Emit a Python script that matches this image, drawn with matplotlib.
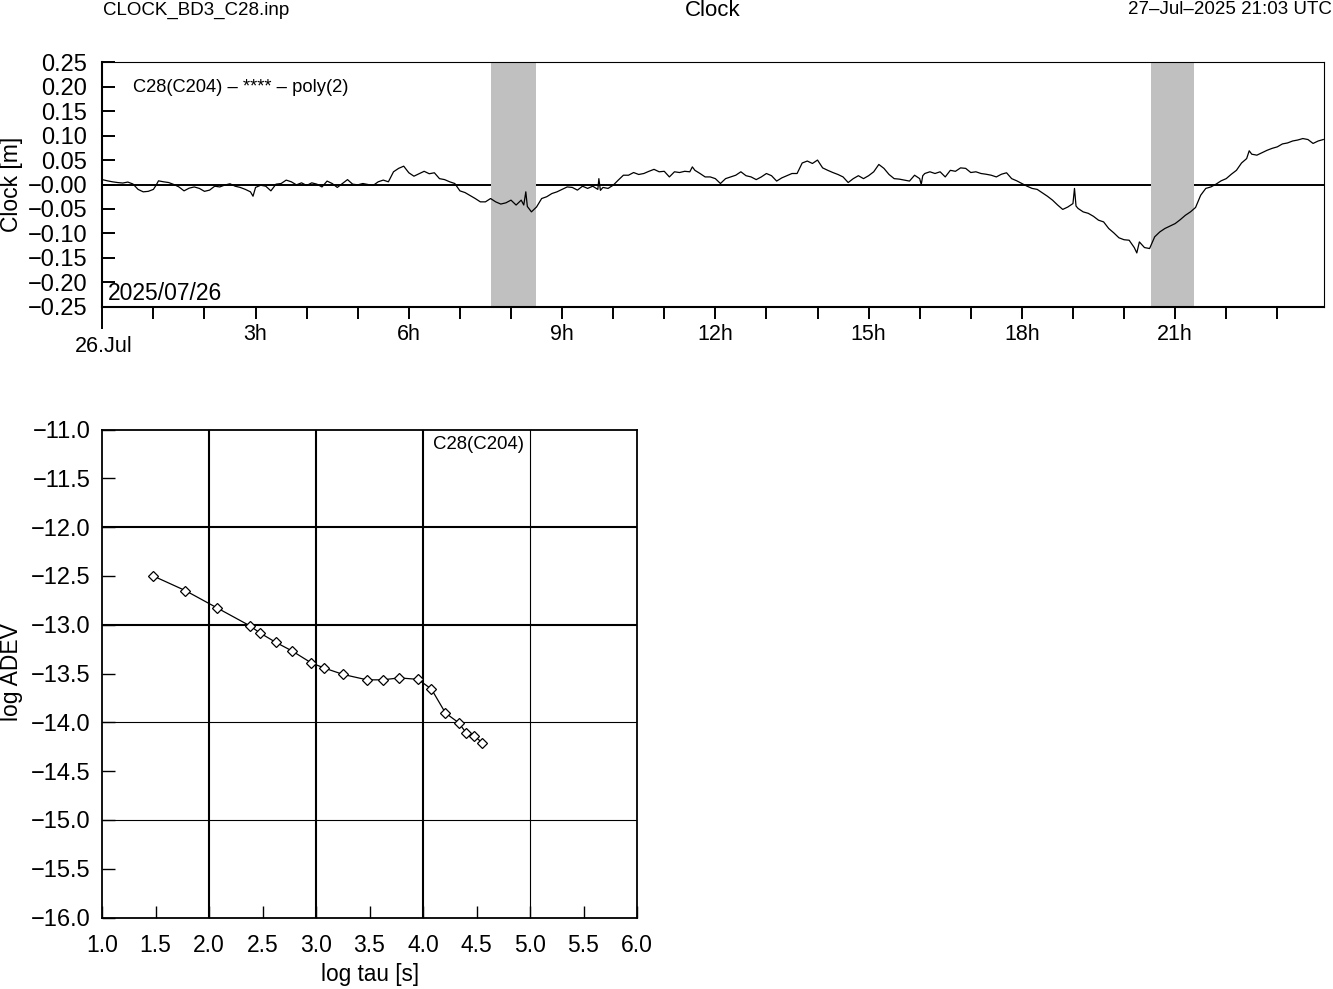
import matplotlib
matplotlib.use('Agg')
import matplotlib.pyplot as plt

plt.rcParams['font.family'] = ['Liberation Sans', 'DejaVu Sans']
plt.rcParams['axes.unicode_minus'] = True

# ---------------- data ----------------
clock_hours = [
    0.0, 0.1, 0.2, 0.3, 0.4, 0.5, 0.6, 0.7, 0.8, 0.9, 1.0, 1.05, 1.1, 1.2, 1.3, 1.4, 1.5, 1.6, 1.7, 1.8, 1.9,
    2.0, 2.1, 2.2, 2.3, 2.4, 2.5, 2.6, 2.7, 2.8, 2.9, 2.95, 3.0, 3.1, 3.2, 3.3, 3.4, 3.5, 3.6, 3.7, 3.8, 3.9,
    4.0, 4.1, 4.2, 4.3, 4.4, 4.5, 4.6, 4.7, 4.8, 4.9, 5.0, 5.1, 5.2, 5.3, 5.4, 5.5, 5.6, 5.7, 5.8, 5.9,
    6.0, 6.1, 6.2, 6.3, 6.4, 6.5, 6.6, 6.7, 6.8, 6.9, 7.0, 7.1, 7.2, 7.3, 7.4, 7.5, 7.6, 7.7, 7.8, 7.9,
    8.0, 8.1, 8.2, 8.25, 8.29, 8.32, 8.4, 8.5, 8.6, 8.7, 8.8, 8.9, 9.0, 9.1, 9.2, 9.3, 9.4, 9.5, 9.6, 9.7,
    9.72, 9.75, 9.8, 9.9, 10.0, 10.1, 10.2, 10.3, 10.4, 10.5, 10.6, 10.7, 10.8, 10.9, 11.0, 11.1, 11.2,
    11.3, 11.4, 11.5, 11.55, 11.6, 11.7, 11.8, 11.9, 12.0, 12.1, 12.2, 12.3, 12.4, 12.5, 12.6, 12.7, 12.8,
    12.9, 13.0, 13.1, 13.2, 13.3, 13.4, 13.5, 13.6, 13.7, 13.8, 13.9, 14.0, 14.1, 14.2, 14.3, 14.4, 14.5,
    14.6, 14.7, 14.8, 14.9, 15.0, 15.1, 15.2, 15.3, 15.4, 15.5, 15.6, 15.7, 15.8, 15.9, 16.0, 16.03, 16.06,
    16.1, 16.2, 16.3, 16.4, 16.5, 16.6, 16.7, 16.8, 16.9, 17.0, 17.1, 17.2, 17.3, 17.4, 17.5, 17.6, 17.7,
    17.8, 17.9, 18.0, 18.1, 18.2, 18.3, 18.4, 18.5, 18.6, 18.7, 18.8, 18.9, 19.0, 19.03, 19.06, 19.1, 19.2,
    19.3, 19.4, 19.5, 19.6, 19.7, 19.8, 19.9, 20.0, 20.1, 20.2, 20.25, 20.3, 20.4, 20.5, 20.6, 20.7, 20.8,
    20.9, 21.0, 21.1, 21.2, 21.3, 21.4, 21.5, 21.6, 21.7, 21.8, 21.9, 22.0, 22.1, 22.2, 22.3, 22.4, 22.45,
    22.5, 22.6, 22.7, 22.8, 22.9, 23.0, 23.1, 23.2, 23.3, 23.4, 23.5, 23.6, 23.7, 23.8, 23.9,
]
clock_values = [
    0.010, 0.0075, 0.0055, 0.004, 0.003, 0.005, 0.001, -0.010, -0.015, -0.014, -0.010, -0.002, 0.0075, 0.0055,
    0.004, 0.0, -0.005, -0.013, -0.0075, -0.005, -0.008,
    -0.014, -0.0115, -0.0035, -0.005, -0.001, 0.0015, -0.0035, -0.006, -0.010, -0.015, -0.024, -0.006, -0.0015,
    -0.0035, -0.013, 0.0007, 0.002, 0.009, 0.0055, -0.0007, 0.0034,
    -0.002, 0.0034, 0.0007, -0.005, 0.007, 0.002, -0.006, 0.002, 0.010, 0.0007, -0.0007, 0.002, 0.0, -0.002,
    0.0055, 0.009, 0.0055, 0.026, 0.033, 0.0375,
    0.024, 0.017, 0.022, 0.027, 0.022, 0.024, 0.012, 0.010, 0.0055, 0.002, -0.013, -0.0165, -0.0225, -0.0287,
    -0.0355, -0.0355, -0.0287, -0.0355, -0.040, -0.0375,
    -0.032, -0.042, -0.032, -0.042, -0.015, -0.045, -0.056, -0.046, -0.0287, -0.025, -0.0185, -0.015, -0.010,
    -0.005, -0.006, -0.0115, -0.0035, -0.008, -0.0035, -0.010,
    0.012, -0.012, -0.006, -0.008, -0.0015, 0.009, 0.019, 0.019, 0.0245, 0.0205, 0.0225, 0.027, 0.031, 0.026,
    0.027, 0.0155, 0.026,
    0.0245, 0.027, 0.026, 0.036, 0.029, 0.0225, 0.0155, 0.0155, 0.012, 0.002, 0.012, 0.0155, 0.019, 0.026,
    0.018, 0.0155, 0.010,
    0.0155, 0.0225, 0.018, 0.007, 0.0135, 0.018, 0.0225, 0.0225, 0.044, 0.048, 0.043, 0.050, 0.034, 0.029,
    0.0245, 0.0205, 0.0155,
    0.004, 0.012, 0.018, 0.012, 0.018, 0.026, 0.041, 0.033, 0.0205, 0.012, 0.011, 0.009, 0.007, 0.019, 0.012,
    0.0, 0.018,
    0.0225, 0.026, 0.0225, 0.026, 0.0155, 0.029, 0.027, 0.034, 0.033, 0.0245, 0.026, 0.0225, 0.021, 0.019,
    0.0155, 0.021, 0.024,
    0.012, 0.0075, 0.002, -0.0034, -0.008, -0.010, -0.017, -0.024, -0.032, -0.042, -0.051, -0.046, -0.039,
    -0.008, -0.044, -0.049, -0.056,
    -0.059, -0.065, -0.073, -0.0765, -0.090, -0.099, -0.109, -0.113, -0.114, -0.129, -0.140, -0.1175, -0.129,
    -0.131, -0.107, -0.097, -0.090,
    -0.085, -0.080, -0.072, -0.063, -0.056, -0.047, -0.022, -0.008, -0.005, 0.0007, 0.0075, 0.012, 0.021,
    0.029, 0.044, 0.053, 0.069,
    0.062, 0.060, 0.065, 0.070, 0.074, 0.077, 0.083, 0.085, 0.089, 0.091, 0.094, 0.092, 0.084, 0.089, 0.092,
]
gap_start = [7.61, 20.52]
gap_end = [8.49, 21.36]

hour_ticks = list(range(0, 24))
hour_labels = ['', '', '', '3h', '', '', '6h', '', '', '9h', '', '', '12h', '', '', '15h', '', '', '18h',
               '', '', '21h', '', '']
clock_yticks = [0.25, 0.20, 0.15, 0.10, 0.05, 0.0, -0.05, -0.10, -0.15, -0.20, -0.25]
clock_ylabels = ['0.25', '0.20', '0.15', '0.10', '0.05', '\u22120.00', '\u22120.05', '\u22120.10',
                 '\u22120.15', '\u22120.20', '\u22120.25']

log_tau = [1.477, 1.778, 2.079, 2.380, 2.477, 2.623, 2.778, 2.954, 3.079, 3.255, 3.477, 3.623, 3.778,
           3.954, 4.079, 4.210, 4.334, 4.401, 4.477, 4.556]
log_adev = [-12.50, -12.65, -12.83, -13.01, -13.085, -13.18, -13.27, -13.39, -13.445, -13.51, -13.565,
            -13.565, -13.545, -13.56, -13.66, -13.905, -14.005, -14.105, -14.14, -14.21]
adev_xticks = [1.0, 1.5, 2.0, 2.5, 3.0, 3.5, 4.0, 4.5, 5.0, 5.5, 6.0]
adev_yticks = [-11.0, -11.5, -12.0, -12.5, -13.0, -13.5, -14.0, -14.5, -15.0, -15.5, -16.0]

# ---------------- figure ----------------
W, H = 1333, 989
fig = plt.figure(figsize=(W / 100, H / 100), dpi=100)


def rect(l, t, r, b):
    return [l / W, 1 - b / H, (r - l) / W, (b - t) / H]


def fx(px):
    return px / W


def fy(py):
    return 1 - py / H


# ---- top: clock ----
ax1 = fig.add_axes(rect(102.3, 62.3, 1324.3, 306.7))
ax1.set_xlim(0, 23.92)
ax1.set_ylim(-0.25, 0.25)
ax1.axhline(0, color='k', lw=1.4, zorder=1)
for s, e in zip(gap_start, gap_end):
    ax1.axvspan(s, e, color='#c0c0c0', lw=0, zorder=2)
ax1.plot(clock_hours, clock_values, color='k', lw=0.9, zorder=3)

for side in ['top', 'right']:
    ax1.spines[side].set_linewidth(0.8)
for side in ['left', 'bottom']:
    ax1.spines[side].set_linewidth(1.5)

ax1.set_yticks(clock_yticks)
ax1.set_yticklabels(clock_ylabels)
ax1.tick_params(axis='y', direction='in', length=9, width=1.4, labelsize=17, pad=11)
ax1.set_xticks(hour_ticks)
ax1.set_xticklabels(hour_labels)
ax1.tick_params(axis='x', direction='out', length=8.6, width=1.4, labelsize=15.5, pad=4)
ax1.xaxis.get_major_ticks()[0].tick1line.set_markersize(16)

fig.text(fx(104), fy(346), '26.Jul', ha='center', va='center', fontsize=15.5)
fig.text(fx(108), fy(294), '2025/07/26', ha='left', va='center', fontsize=16.5)
fig.text(fx(133), fy(87), 'C28(C204) \u2013 **** \u2013 poly(2)', ha='left', va='center', fontsize=13.2)
fig.text(fx(12), fy(184), 'Clock [m]', ha='center', va='center', rotation=90, fontsize=16.5)

fig.text(fx(103), fy(10), 'CLOCK_BD3_C28.inp', ha='left', va='center', fontsize=13.5)
fig.text(fx(713), fy(10), 'Clock', ha='center', va='center', fontsize=16)
fig.text(fx(1332), fy(10), '27\u2013Jul\u20132025 21:03 UTC', ha='right', va='center', fontsize=13.5)

# ---- bottom: ADEV ----
ax2 = fig.add_axes(rect(102, 429.5, 637, 917.5))
ax2.set_xlim(1, 6)
ax2.set_ylim(-16, -11)
for v in [2, 3, 4]:
    ax2.axvline(v, color='k', lw=1.5, zorder=1)
ax2.axvline(5, color='k', lw=0.8, zorder=1)
for v in [-12, -13]:
    ax2.axhline(v, color='k', lw=1.5, zorder=1)
for v in [-14, -15]:
    ax2.axhline(v, color='k', lw=0.8, zorder=1)
ax2.plot(log_tau, log_adev, color='k', lw=0.9, marker='D', ms=5, mfc='white', mec='k', mew=0.9, zorder=3)
for side in ax2.spines:
    ax2.spines[side].set_linewidth(1.3)
ax2.set_xticks(adev_xticks)
ax2.set_xticklabels(['%.1f' % v for v in adev_xticks])
ax2.set_yticks(adev_yticks)
ax2.set_yticklabels([('%.1f' % v).replace('-', '\u2212') for v in adev_yticks])
ax2.tick_params(axis='x', direction='in', length=9, width=1.0, labelsize=16.5, pad=12)
ax2.tick_params(axis='y', direction='in', length=9, width=1.0, labelsize=17, pad=8)

fig.text(fx(479), fy(444), 'C28(C204)', ha='center', va='center', fontsize=13.4)
fig.text(fx(12), fy(672), 'log ADEV', ha='center', va='center', rotation=90, fontsize=16.5)
fig.text(fx(370), fy(975), 'log tau [s]', ha='center', va='center', fontsize=16.3)

fig.savefig('out.png', dpi=100)
